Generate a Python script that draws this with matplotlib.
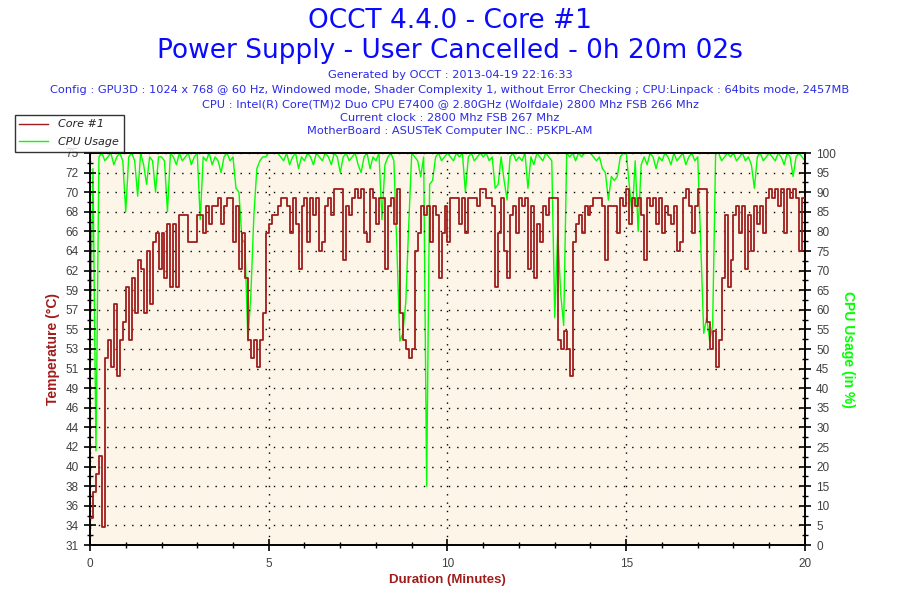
import numpy as np
import matplotlib
matplotlib.use("Agg")
import matplotlib.pyplot as plt
from matplotlib.ticker import FixedLocator, MultipleLocator
from matplotlib.lines import Line2D

# ---- data (5-second samples, minutes 0..20) ----
temp_c = [
    34, 37, 39, 41, 33, 52, 54, 51, 58, 50, 54, 56,          # min 0
    60, 54, 61, 57, 63, 62, 57, 64, 58, 65, 66, 62,          # min 1
    66, 61, 67, 60, 67, 60, 68, 68, 68, 65, 65, 65,          # min 2
    68, 68, 66, 69, 67, 69, 69, 70, 67, 69, 70, 70,          # min 3
    65, 69, 62, 66, 61, 54, 52, 54, 51, 54, 57, 66,          # min 4
    67, 68, 68, 69, 70, 70, 69, 66, 70, 67, 62, 69,          # min 5
    70, 65, 70, 68, 70, 64, 65, 69, 70, 68, 71, 71,          # min 6
    71, 63, 69, 68, 70, 71, 70, 71, 66, 65, 71, 70,          # min 7
    67, 70, 70, 62, 69, 70, 67, 71, 57, 54, 53, 52,          # min 8
    53, 64, 66, 69, 68, 69, 65, 69, 68, 61, 66, 69,          # min 9
    65, 70, 70, 70, 67, 70, 66, 70, 70, 70, 69, 71,          # min 10
    71, 70, 70, 69, 60, 66, 70, 64, 61, 68, 69, 66,          # min 11
    70, 69, 70, 62, 69, 61, 67, 65, 69, 68, 70, 70,          # min 12
    70, 54, 53, 55, 53, 50, 65, 67, 68, 66, 69, 68,          # min 13
    69, 70, 70, 70, 69, 63, 69, 69, 69, 66, 70, 69,          # min 14
    71, 67, 70, 69, 70, 68, 63, 70, 69, 70, 67, 70,          # min 15
    66, 69, 68, 67, 69, 64, 65, 70, 71, 69, 66, 69,          # min 16
    71, 71, 71, 56, 53, 55, 51, 54, 61, 68, 60, 63,          # min 17
    68, 69, 66, 69, 62, 68, 64, 69, 67, 69, 66, 70,          # min 18
    71, 70, 71, 69, 71, 66, 71, 70, 71, 70, 64, 70,          # min 19
    70,
]

cpu_usage = [
    50, 96, 24, 99, 100, 98, 99, 100, 97, 99, 100, 98,       # min 0
    85, 99, 100, 98, 89, 100, 97, 92, 99, 98, 90, 99,        # min 1
    99, 98, 85, 100, 99, 97, 100, 98, 99, 100, 97, 99,       # min 2
    100, 83, 99, 98, 100, 97, 99, 98, 95, 99, 100, 98,       # min 3
    99, 91, 90, 78, 77, 52, 64, 84, 96, 98, 99, 99,          # min 4
    100, 100, 100, 100, 99, 98, 100, 97, 99, 100, 96, 99,    # min 5
    98, 100, 99, 97, 100, 99, 98, 100, 99, 97, 100, 99,      # min 6
    95, 99, 100, 98, 99, 100, 97, 95, 99, 100, 96, 99,       # min 7
    98, 100, 83, 97, 99, 100, 98, 76, 52, 54, 62, 82,        # min 8
    100, 99, 98, 94, 99, 15, 92, 93, 99, 100, 98, 99,        # min 9
    100, 99, 98, 100, 99, 100, 90, 99, 100, 98, 99, 100,     # min 10
    99, 100, 98, 99, 91, 92, 99, 93, 88, 99, 100, 98,        # min 11
    99, 98, 100, 91, 99, 97, 100, 99, 98, 100, 99, 98,       # min 12
    58, 80, 64, 56, 100, 99, 100, 98, 100, 99, 100, 100,     # min 13
    100, 99, 98, 99, 96, 95, 88, 94, 93, 94, 99, 100,        # min 14
    100, 92, 84, 98, 80, 97, 99, 97, 100, 99, 96, 99,        # min 15
    98, 100, 99, 97, 100, 98, 99, 100, 97, 99, 100, 98,      # min 16
    99, 77, 54, 58, 52, 56, 100, 100, 98, 99, 100, 99,       # min 17
    100, 98, 99, 100, 98, 99, 97, 91, 99, 100, 98, 99,       # min 18
    100, 99, 98, 100, 99, 97, 100, 99, 94, 99, 100, 99,      # min 19
    98,
]

sample_seconds = 5
temp_tick_labels = ["31", "34", "36", "38", "40", "42", "44", "46", "49", "51", "53",
                    "55", "57", "59", "62", "64", "66", "68", "70", "72", "75"]
cpu_tick_labels = [str(v) for v in range(0, 101, 5)]
x_ticks = [0, 5, 10, 15, 20]

title_lines = ["OCCT 4.4.0 - Core #1", "Power Supply - User Cancelled - 0h 20m 02s"]
info_lines = [
    "Generated by OCCT : 2013-04-19 22:16:33",
    "Config : GPU3D : 1024 x 768 @ 60 Hz, Windowed mode, Shader Complexity 1, without Error Checking ; CPU:Linpack : 64bits mode, 2457MB",
    "CPU : Intel(R) Core(TM)2 Duo CPU E7400 @ 2.80GHz (Wolfdale) 2800 Mhz FSB 266 Mhz",
    "Current clock : 2800 Mhz FSB 267 Mhz",
    "MotherBoard : ASUSTeK Computer INC.: P5KPL-AM",
]

# ---- styling ----
plt.rcParams['font.family'] = ['DejaVu Sans']
RED = "#a01c1c"
GREEN = "#00ff00"
BLUE = "#0a0aff"
INFO_BLUE = "#2a2ae8"
BG = "#fdf6e8"
TICKC = "#404040"
ARIAL = ["Liberation Sans", "DejaVu Sans"]

t_temp = np.arange(len(temp_c)) * sample_seconds / 60.0
t_cpu = np.arange(len(cpu_usage)) * sample_seconds / 60.0

fig = plt.figure(figsize=(9, 6), dpi=100)
fig.patch.set_facecolor("white")
ax = fig.add_axes([90 / 900, 55 / 600, 715 / 900, 392 / 600])

ymin, ymax = 31, 75
ax.set_xlim(0, 20)
ax.set_ylim(ymin, ymax)
temp_ticks = np.linspace(ymin, ymax, len(temp_tick_labels))
ax.yaxis.set_major_locator(FixedLocator(temp_ticks))
ax.set_yticklabels(temp_tick_labels, family=ARIAL)
ax.yaxis.set_minor_locator(FixedLocator((temp_ticks[:-1] + temp_ticks[1:]) / 2))
ax.xaxis.set_major_locator(FixedLocator(x_ticks))
ax.set_xticklabels([str(v) for v in x_ticks], family=ARIAL)
ax.xaxis.set_minor_locator(MultipleLocator(1))

ax2 = ax.twinx()
ax2.set_ylim(0, 100)
ax2.yaxis.set_major_locator(FixedLocator(range(0, 101, 5)))
ax2.set_yticklabels(cpu_tick_labels, family=ARIAL)
ax2.yaxis.set_minor_locator(MultipleLocator(2.5))

ax2.plot(t_cpu, cpu_usage, color=GREEN, linewidth=1.0, zorder=2)
ax.set_zorder(ax2.get_zorder() + 1)
ax.patch.set_visible(False)
ax2.patch.set_visible(True)
ax2.patch.set_facecolor(BG)
ax.plot(t_temp, temp_c, color=RED, linewidth=1.3, drawstyle="steps-post", zorder=3)
ax.grid(True, which="major", color="black", linestyle=(0, (1, 5)), linewidth=1.0)

for a in (ax, ax2):
    for s in a.spines.values():
        s.set_color("black")
        s.set_linewidth(1.2)
ax.tick_params(axis="both", which="major", direction="inout", length=9, width=1.2,
               colors="black", labelcolor=TICKC, labelsize=8.5)
ax.tick_params(axis="both", which="minor", direction="inout", length=5, width=1.0, colors="black")
ax.tick_params(axis="x", pad=5)
ax2.tick_params(axis="y", which="major", direction="inout", length=9, width=1.2,
                colors="black", labelcolor=TICKC, labelsize=8.5)
ax2.tick_params(axis="y", which="minor", direction="inout", length=5, width=1.0, colors="black")

ax.set_ylabel("Temperature (°C)", color=RED, fontsize=10, fontweight="bold",
              family=ARIAL, labelpad=4)
ax2.set_ylabel("CPU Usage (in %)", color=GREEN, fontsize=10, fontweight="bold",
               family=ARIAL, rotation=270, labelpad=14)
ax.set_xlabel("Duration (Minutes)", color=RED, fontsize=9.5, fontweight="bold",
              family=ARIAL, labelpad=3)

# titles
fig.text(0.5, 1 - 21 / 600, title_lines[0], ha="center", va="center", fontsize=19, color=BLUE)
fig.text(0.5, 1 - 51 / 600, title_lines[1], ha="center", va="center", fontsize=19, color=BLUE)
ys = [75, 90, 104, 118, 131]
for yy, line in zip(ys, info_lines):
    fig.text(0.5, 1 - yy / 600, line, ha="center", va="center", fontsize=8.2, color=INFO_BLUE)

# legend
handles = [Line2D([], [], color=RED, lw=1), Line2D([], [], color=GREEN, lw=1)]
leg = fig.legend(handles, ["Core #1", "CPU Usage"], loc="upper left",
                 bbox_to_anchor=(15 / 900, 1 - 115 / 600), frameon=True, fancybox=False,
                 prop={"size": 8, "style": "italic"}, handlelength=2.6, borderpad=0.4,
                 labelspacing=0.7, handletextpad=0.9, borderaxespad=0)
leg.get_frame().set_edgecolor("black")
leg.get_frame().set_linewidth(1.0)
for txt in leg.get_texts():
    txt.set_color("#222222")

fig.savefig("out.png", dpi=100)
